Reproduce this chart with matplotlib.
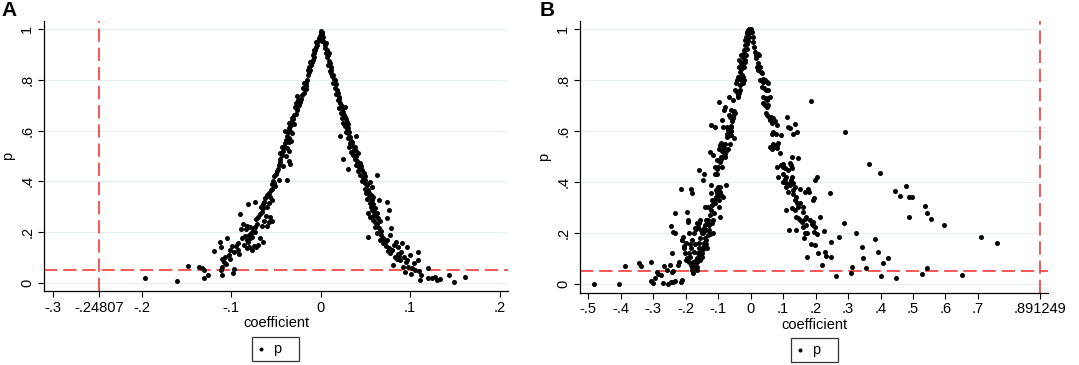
import matplotlib
matplotlib.use("Agg")
import matplotlib.pyplot as plt

# ---------------- data ----------------
a_left = [
(0.000,0.995),(0.000,0.985),(-0.001,0.975),(-0.002,0.965),(-0.003,0.955),(0.001,0.97),(0.002,0.96),
(-0.004,0.94),(-0.005,0.93),(-0.006,0.92),(-0.007,0.905),(-0.008,0.89),(-0.009,0.88),(-0.010,0.87),
(-0.011,0.86),(-0.009,0.9),(-0.012,0.84),(-0.013,0.83),(-0.014,0.82),(-0.015,0.80),(-0.016,0.79),
(-0.013,0.85),(-0.017,0.775),(-0.018,0.765),(-0.020,0.77),(-0.019,0.75),(-0.021,0.74),(-0.016,0.765),
(-0.022,0.725),(-0.023,0.715),(-0.025,0.72),(-0.024,0.70),(-0.026,0.69),(-0.027,0.68),(-0.029,0.695),
(-0.028,0.665),(-0.030,0.66),(-0.031,0.645),(-0.032,0.65),(-0.033,0.635),(-0.030,0.625),(-0.034,0.62),
(-0.035,0.63),(-0.036,0.61),(-0.034,0.60),(-0.032,0.59),(-0.037,0.595),(-0.038,0.58),(-0.035,0.57),
(-0.039,0.565),(-0.036,0.555),(-0.033,0.56),(-0.040,0.55),(-0.041,0.535),(-0.038,0.53),(-0.036,0.52),
(-0.042,0.52),(-0.043,0.505),(-0.039,0.50),(-0.035,0.48),(-0.034,0.47),(-0.045,0.49),(-0.046,0.475),
(-0.047,0.465),(-0.042,0.46),(-0.048,0.45),(-0.038,0.405),(-0.049,0.44),(-0.050,0.43),(-0.052,0.42),
(-0.053,0.40),(-0.055,0.39),(-0.051,0.38),(-0.054,0.37),(-0.056,0.365),(-0.058,0.355),(-0.060,0.345),
(-0.057,0.34),(-0.062,0.335),(-0.055,0.325),(-0.058,0.315),(-0.063,0.32),(-0.065,0.31),(-0.060,0.30),
(-0.064,0.295),(-0.067,0.30),(-0.066,0.28),(-0.068,0.27),(-0.061,0.265),(-0.057,0.26),(-0.055,0.245),
(-0.058,0.24),(-0.070,0.26),(-0.072,0.25),(-0.071,0.23),(-0.073,0.22),(-0.075,0.215),(-0.074,0.20),
(-0.076,0.205),(-0.078,0.195),(-0.077,0.18),(-0.080,0.19),(-0.079,0.175),(-0.082,0.17),(-0.081,0.16),
(-0.085,0.185),(-0.084,0.21),(-0.083,0.225),(-0.087,0.23),(-0.089,0.21),(-0.088,0.175),(-0.090,0.27),
(-0.081,0.31),(-0.074,0.32),(-0.068,0.175),(-0.065,0.16),(-0.070,0.15),(-0.072,0.14),(-0.075,0.145),
(-0.077,0.13),(-0.080,0.14),(-0.083,0.135),(-0.086,0.15),(-0.091,0.115),(-0.093,0.13),(-0.095,0.145),
(-0.097,0.12),(-0.099,0.145),(-0.101,0.13),(-0.103,0.11),(-0.105,0.175),(-0.107,0.10),(-0.108,0.08),
(-0.110,0.095),(-0.110,0.06),(-0.112,0.14),(-0.113,0.16),(-0.111,0.05),(-0.110,0.03),(-0.098,0.04),
(-0.097,0.055),(-0.119,0.125),(-0.126,0.03),(-0.131,0.018),(-0.130,0.05),(-0.133,0.058),(-0.136,0.062),
(-0.149,0.066),(-0.161,0.007),(-0.196,0.02),(-0.106,0.075),(-0.102,0.095),(-0.092,0.155),(-0.079,0.22),
(-0.063,0.245),(-0.060,0.225),(-0.066,0.225),(-0.052,0.395),(-0.047,0.405),(-0.045,0.51),(-0.043,0.535),
(-0.040,0.60),(-0.028,0.71),(-0.026,0.735),(-0.019,0.79),(-0.014,0.84),(-0.012,0.87),(-0.008,0.92),
(-0.005,0.95),
]

a_right = [
(0.001,0.99),(0.002,0.98),(0.003,0.97),(0.002,0.955),(0.004,0.95),(0.005,0.94),(0.006,0.945),(0.005,0.925),
(0.007,0.92),(0.006,0.905),(0.008,0.90),(0.009,0.905),(0.007,0.89),(0.009,0.875),(0.010,0.866),(0.008,0.86),
(0.011,0.85),(0.012,0.84),(0.010,0.835),(0.012,0.826),(0.013,0.815),(0.014,0.82),(0.015,0.805),(0.016,0.80),
(0.014,0.79),(0.017,0.785),(0.016,0.77),(0.018,0.761),(0.019,0.75),(0.017,0.745),(0.020,0.734),(0.021,0.725),
(0.019,0.72),(0.022,0.708),(0.023,0.70),(0.021,0.69),(0.027,0.695),(0.024,0.685),(0.023,0.668),(0.025,0.675),
(0.026,0.66),(0.024,0.65),(0.027,0.655),(0.028,0.645),(0.025,0.629),(0.029,0.635),(0.027,0.62),(0.030,0.625),
(0.029,0.603),(0.031,0.61),(0.031,0.589),(0.028,0.595),(0.032,0.595),(0.022,0.58),(0.034,0.56),(0.040,0.58),
(0.033,0.575),(0.030,0.57),(0.033,0.55),(0.035,0.555),(0.036,0.54),(0.032,0.535),(0.037,0.524),(0.038,0.537),
(0.039,0.52),(0.034,0.515),(0.036,0.505),(0.025,0.49),(0.031,0.45),(0.040,0.50),(0.042,0.511),(0.038,0.49),
(0.041,0.48),(0.044,0.471),(0.040,0.465),(0.043,0.455),(0.045,0.46),(0.042,0.44),(0.046,0.445),(0.048,0.432),
(0.044,0.425),(0.047,0.415),(0.049,0.42),(0.050,0.405),(0.046,0.40),(0.050,0.392),(0.055,0.399),(0.052,0.385),
(0.057,0.379),(0.053,0.366),(0.049,0.37),(0.054,0.355),(0.051,0.353),(0.056,0.345),(0.054,0.339),(0.058,0.34),
(0.063,0.425),(0.052,0.33),(0.057,0.325),(0.065,0.326),(0.055,0.315),(0.059,0.31),(0.057,0.287),(0.059,0.29),
(0.061,0.295),(0.056,0.30),(0.060,0.28),(0.063,0.274),(0.053,0.274),(0.055,0.26),(0.058,0.265),(0.062,0.265),
(0.059,0.247),(0.064,0.255),(0.061,0.24),(0.066,0.245),(0.053,0.179),(0.061,0.221),(0.063,0.23),(0.065,0.215),
(0.074,0.32),(0.076,0.287),(0.074,0.254),(0.063,0.195),(0.067,0.205),(0.068,0.188),(0.066,0.168),(0.070,0.175),
(0.070,0.155),(0.072,0.16),(0.074,0.168),(0.079,0.214),(0.077,0.19),(0.073,0.145),(0.076,0.136),(0.078,0.116),
(0.075,0.125),(0.080,0.13),(0.082,0.15),(0.084,0.16),(0.087,0.14),(0.083,0.103),(0.086,0.115),(0.089,0.089),
(0.081,0.07),(0.085,0.095),(0.091,0.155),(0.090,0.12),(0.093,0.10),(0.096,0.142),(0.092,0.063),(0.094,0.043),
(0.098,0.063),(0.097,0.09),(0.100,0.11),(0.102,0.057),(0.104,0.076),(0.109,0.089),(0.109,0.122),(0.106,0.05),
(0.111,0.011),(0.112,0.030),(0.110,0.045),(0.120,0.057),(0.120,0.017),(0.124,0.017),(0.128,0.024),(0.130,0.011),
(0.133,0.013),(0.143,0.030),(0.149,0.004),(0.161,0.024),(0.088,0.105),(0.095,0.08),(0.101,0.035),
]

b_left = [
(-0.483,0.0),(-0.405,0.0),(-0.386,0.069),(-0.345,0.082),(-0.338,0.071),(-0.308,0.085),(-0.307,0.01),
(-0.302,0.004),(-0.296,0.024),(-0.287,0.047),(-0.284,0.038),(-0.276,0.033),(-0.271,0.004),(-0.267,0.071),
(-0.254,0.0),(-0.257,0.054),(-0.248,0.073),(-0.245,0.008),(-0.241,0.047),(-0.238,0.051),(-0.243,0.119),
(-0.238,0.008),(-0.233,0.01),(-0.245,0.226),(-0.240,0.204),(-0.233,0.198),(-0.233,0.276),(-0.223,0.073),
(-0.220,0.086),(-0.215,0.374),(-0.213,0.008),(-0.210,0.014),(-0.210,0.171),(-0.207,0.185),(-0.205,0.139),
(-0.202,0.119),(-0.200,0.093),(-0.197,0.283),(-0.194,0.25),(-0.192,0.243),(-0.189,0.198),(-0.187,0.158),
(-0.187,0.106),(-0.184,0.374),(-0.182,0.355),(-0.182,0.067),(-0.179,0.043),(-0.177,0.086),(-0.174,0.126),
(-0.171,0.158),(-0.168,0.217),(-0.166,0.086),(-0.164,0.067),(-0.162,0.224),(-0.160,0.237),(-0.158,0.446),
(-0.156,0.25),(-0.154,0.211),(-0.152,0.106),(-0.150,0.119),(-0.148,0.145),(-0.146,0.198),(-0.146,0.407),
(-0.143,0.433),(-0.141,0.3),(-0.138,0.211),(-0.136,0.171),(-0.136,0.25),(-0.133,0.139),(-0.130,0.3),
(-0.128,0.211),(-0.125,0.518),(-0.123,0.623),(-0.123,0.387),(-0.121,0.355),(-0.119,0.329),(-0.117,0.25),
(-0.115,0.505),(-0.115,0.198),(-0.113,0.276),(-0.111,0.316),(-0.110,0.617),(-0.109,0.459),(-0.107,0.368),
(-0.105,0.433),(-0.103,0.486),(-0.101,0.381),(-0.099,0.715),(-0.098,0.329),(-0.097,0.3),(-0.095,0.263),
(-0.092,0.551),(-0.091,0.499),(-0.089,0.459),(-0.088,0.643),(-0.086,0.342),(-0.085,0.617),(-0.084,0.545),
(-0.082,0.682),(-0.079,0.695),(-0.078,0.499),(-0.076,0.386),(-0.074,0.59),(-0.072,0.617),(-0.069,0.603),
(-0.067,0.662),(-0.066,0.734),(-0.064,0.656),(-0.062,0.617),(-0.061,0.584),(-0.059,0.682),(-0.055,0.649),
(-0.053,0.721),(-0.051,0.571),(-0.048,0.76),(-0.047,0.669),(-0.045,0.787),(-0.043,0.8),(-0.041,0.754),
(-0.039,0.813),(-0.037,0.852),(-0.035,0.878),(-0.033,0.832),(-0.031,0.865),(-0.029,0.898),(-0.027,0.8),
(-0.025,0.891),(-0.023,0.813),(-0.021,0.918),(-0.018,0.937),(-0.016,0.957),(-0.014,0.97),(-0.012,0.983),
(-0.010,0.99),(-0.007,0.996),(-0.004,0.999),(0.000,1.0),
(-0.030,0.80),(-0.028,0.81),(-0.026,0.82),(-0.024,0.79),(-0.022,0.80),(-0.032,0.78),(-0.034,0.76),
(-0.036,0.75),(-0.038,0.74),(-0.040,0.735),(-0.020,0.85),(-0.018,0.87),(-0.016,0.88),(-0.022,0.875),
(-0.014,0.90),(-0.012,0.92),(-0.010,0.94),(-0.008,0.955),(-0.006,0.97),(-0.004,0.985),(-0.020,0.905),
(-0.026,0.86),(-0.030,0.845),(-0.050,0.68),(-0.052,0.67),(-0.055,0.66),(-0.058,0.64),(-0.060,0.62),
(-0.062,0.60),(-0.064,0.59),(-0.066,0.585),(-0.068,0.60),(-0.070,0.59),(-0.072,0.575),(-0.060,0.60),
(-0.063,0.55),(-0.070,0.53),(-0.075,0.52),(-0.080,0.51),(-0.085,0.50),(-0.090,0.49),(-0.095,0.48),
(-0.100,0.46),(-0.098,0.53),(-0.093,0.545),(-0.088,0.52),(-0.082,0.535),(-0.078,0.55),(-0.105,0.45),
(-0.110,0.43),(-0.100,0.37),(-0.095,0.36),(-0.090,0.35),(-0.093,0.38),(-0.098,0.35),(-0.104,0.355),
(-0.108,0.34),(-0.112,0.33),(-0.118,0.31),(-0.122,0.29),(-0.126,0.27),(-0.130,0.25),(-0.135,0.24),
(-0.140,0.23),(-0.145,0.22),(-0.150,0.20),(-0.155,0.18),(-0.158,0.16),(-0.160,0.14),(-0.162,0.12),
(-0.165,0.10),(-0.170,0.09),(-0.175,0.075),(-0.178,0.065),(-0.180,0.055),(-0.128,0.23),(-0.120,0.24),
(-0.132,0.19),(-0.140,0.18),(-0.145,0.16),(-0.150,0.105),(-0.155,0.095),(-0.158,0.115),(-0.153,0.125),
(-0.148,0.135),(-0.138,0.155),(-0.125,0.195),(-0.165,0.24),(-0.170,0.22),(-0.175,0.20),(-0.180,0.17),
(-0.185,0.14),(-0.190,0.12),(-0.195,0.10),(-0.200,0.16),(-0.205,0.15),(-0.210,0.17),(-0.190,0.085),
(-0.185,0.075),(-0.170,0.06),(-0.165,0.055),
]

b_right = [
(0.003,0.99),(0.006,0.97),(0.008,0.95),(0.010,0.93),(0.013,0.91),(0.016,0.898),(0.018,0.885),(0.024,0.904),
(0.027,0.898),(0.024,0.865),(0.021,0.852),(0.024,0.839),(0.029,0.852),(0.031,0.832),(0.034,0.826),(0.037,0.806),
(0.029,0.80),(0.039,0.793),(0.044,0.80),(0.049,0.793),(0.054,0.787),(0.041,0.767),(0.034,0.774),(0.047,0.76),
(0.054,0.76),(0.039,0.734),(0.044,0.728),(0.049,0.721),(0.054,0.728),(0.060,0.734),(0.037,0.708),(0.044,0.702),
(0.049,0.695),(0.054,0.702),(0.047,0.669),(0.051,0.662),(0.057,0.656),(0.064,0.653),(0.070,0.649),(0.060,0.643),
(0.065,0.63),(0.075,0.64),(0.080,0.623),(0.065,0.59),(0.070,0.597),(0.078,0.59),(0.092,0.584),(0.080,0.545),
(0.085,0.551),(0.060,0.538),(0.065,0.531),(0.075,0.538),(0.070,0.548),(0.090,0.512),(0.082,0.459),(0.085,0.42),
(0.095,0.466),(0.101,0.472),(0.106,0.453),(0.099,0.433),(0.101,0.40),(0.108,0.397),(0.110,0.381),(0.115,0.361),
(0.121,0.387),(0.123,0.407),(0.126,0.42),(0.123,0.466),(0.113,0.656),(0.115,0.617),(0.121,0.61),(0.131,0.59),
(0.138,0.627),(0.144,0.597),(0.126,0.499),(0.129,0.351),(0.131,0.394),(0.110,0.289),(0.117,0.211),(0.126,0.296),
(0.137,0.329),(0.142,0.316),(0.147,0.303),(0.140,0.263),(0.147,0.257),(0.152,0.25),(0.158,0.243),(0.160,0.283),
(0.162,0.224),(0.167,0.198),(0.164,0.178),(0.172,0.23),(0.175,0.198),(0.181,0.361),(0.185,0.158),(0.191,0.329),
(0.195,0.335),(0.193,0.243),(0.195,0.204),(0.198,0.152),(0.175,0.106),(0.185,0.717),(0.199,0.407),(0.203,0.42),
(0.207,0.119),(0.214,0.263),(0.219,0.073),(0.226,0.208),(0.228,0.126),(0.232,0.109),(0.244,0.355),(0.246,0.165),
(0.248,0.106),(0.263,0.03),(0.271,0.185),(0.287,0.237),(0.292,0.597),(0.308,0.043),(0.311,0.067),(0.326,0.20),
(0.343,0.145),(0.347,0.103),(0.354,0.063),(0.364,0.469),(0.382,0.177),(0.391,0.126),(0.397,0.436),(0.401,0.029),
(0.409,0.082),(0.422,0.102),(0.444,0.365),(0.447,0.022),(0.459,0.343),(0.480,0.385),(0.487,0.339),(0.488,0.262),
(0.496,0.342),(0.528,0.037),(0.536,0.305),(0.542,0.276),(0.542,0.06),(0.555,0.255),(0.595,0.232),(0.650,0.035),
(0.708,0.182),(0.758,0.16),
(0.080,0.532),(0.100,0.459),(0.110,0.42),(0.120,0.394),(0.131,0.368),(0.141,0.341),(0.151,0.316),(0.162,0.303),
(0.172,0.263),(0.182,0.25),(0.193,0.23),(0.136,0.289),(0.141,0.21),(0.167,0.256),(0.188,0.236),(0.198,0.223),
(0.203,0.197),(0.116,0.447),(0.126,0.453),(0.120,0.473),(0.146,0.492),(0.105,0.413),(0.136,0.381),(0.151,0.374),
(0.167,0.361),(0.177,0.374),
]

xticks_a = [-0.3, -0.24807, -0.2, -0.1, 0, 0.1, 0.2]
xlabels_a = ["-.3", "-.24807", "-.2", "-.1", "0", ".1", ".2"]
xticks_b = [-0.5, -0.4, -0.3, -0.2, -0.1, 0, 0.1, 0.2, 0.3, 0.4, 0.5, 0.6, 0.7, 0.891249]
xlabels_b = ["-.5", "-.4", "-.3", "-.2", "-.1", "0", ".1", ".2", ".3", ".4", ".5", ".6", ".7", ".891249"]
yticks = [0, 0.2, 0.4, 0.6, 0.8, 1]
ylabels = ["0", ".2", ".4", ".6", ".8", "1"]
vline_a = -0.24807
vline_b = 0.891249
hline = 0.05

# ---------------- drawing ----------------
plt.rcParams['font.family'] = ['Liberation Sans', 'DejaVu Sans']
fig = plt.figure(figsize=(10.79, 3.65), dpi=100)

RED = '#f23b3b'
GRID = '#e6eef0'

def panel(ax, pts_l, pts_r, xticks, xlabels, xlim, ylim, vline, leg_bbox):
    xs = [p[0] for p in pts_l] + [p[0] for p in pts_r]
    ys = [p[1] for p in pts_l] + [p[1] for p in pts_r]
    ax.set_xlim(*xlim)
    ax.set_ylim(*ylim)
    for y in yticks:
        ax.axhline(y, color=GRID, lw=0.8, zorder=0)
    ax.axhline(hline, color=RED, lw=1.2, ls=(0, (8, 3.5)), zorder=1)
    ax.axvline(vline, color=RED, lw=1.2, ls=(0, (8, 3.5)), zorder=1)
    sc = ax.scatter(xs, ys, s=13, c='black', linewidths=0, zorder=3, label='p')
    ax.set_xticks(xticks)
    ax.set_xticklabels(xlabels)
    ax.set_yticks(yticks)
    ax.set_yticklabels(ylabels, rotation=90, va='center')
    ax.tick_params(axis='both', direction='out', length=4.5, width=0.8,
                   labelsize=10.5, pad=2.5, colors='black')
    for s in ['top', 'right']:
        ax.spines[s].set_visible(False)
    for s in ['left', 'bottom']:
        ax.spines[s].set_linewidth(0.9)
    ax.set_xlabel('coefficient', fontsize=10.5, labelpad=1)
    ax.set_ylabel('p', fontsize=10.5, labelpad=4)
    leg = ax.legend(handles=[sc], labels=['p'], loc='upper left', bbox_to_anchor=leg_bbox,
                    mode='expand', frameon=True, fancybox=False, edgecolor='black',
                    fontsize=10.5, handlelength=0.6, handletextpad=0.5, borderpad=0.35,
                    markerscale=0.8, borderaxespad=0)
    leg.get_frame().set_linewidth(0.9)

axA = fig.add_axes([0.0408, 0.2027, 0.4300, 0.7406])
panel(axA, a_left, a_right, xticks_a, xlabels_a, (-0.3095, 0.2095), (-0.033, 1.034),
      vline_a, (0.448, -0.170, 0.101, 0.001))

axB = fig.add_axes([0.5375, 0.1981, 0.4340, 0.7452])
panel(axB, b_left, b_right, xticks_b, xlabels_b, (-0.5257, 0.9166), (-0.035, 1.033),
      vline_b, (0.4506, -0.1665, 0.1004, 0.001))

fig.text(0.001, 0.998, 'A', fontsize=15, fontweight='bold', va='top', ha='left')
fig.text(0.5005, 0.998, 'B', fontsize=15, fontweight='bold', va='top', ha='left')

fig.savefig('out.png', dpi=100)
